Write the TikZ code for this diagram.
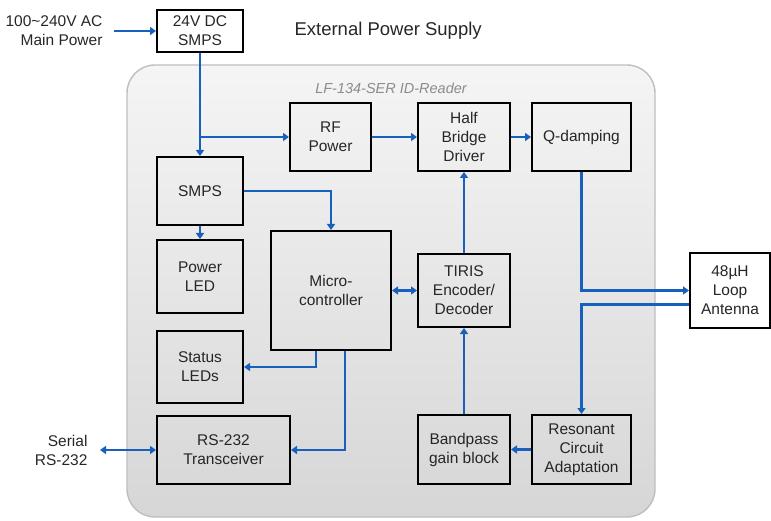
\documentclass[tikz,border=0pt]{standalone}
\usepackage{fontspec}
\setmainfont{Liberation Sans}
\usetikzlibrary{arrows.meta,calc}
\definecolor{arrblue}{RGB}{24,96,190}
\definecolor{framegray}{RGB}{190,190,190}
\tikzset{
  blk/.style={draw=black,line width=2pt,align=center,inner sep=1pt,
    font=\fontsize{15.5}{19}\selectfont,text=black!85},
  wblk/.style={blk,fill=white},
  arr/.style={draw=arrblue,line width=2.2pt,-{Triangle[length=6pt,width=8pt]}},
  darr/.style={draw=arrblue,line width=2.2pt,{Triangle[length=6pt,width=8pt]}-{Triangle[length=6pt,width=8pt]}},
  lbl/.style={align=right,font=\fontsize{15.5}{19}\selectfont,text=black!85}
}
\begin{document}
\begin{tikzpicture}[x=1pt,y=-1pt]
\useasboundingbox (0,0) rectangle (771,521);
% reader frame
\path[draw=framegray,line width=1.4pt,rounded corners=28pt,top color=black!4,bottom color=black!16]
  (127,65) rectangle (655,517);
\node[font=\fontsize{14.5}{17}\selectfont\itshape,text=black!45] (rdr) at (391,88) {LF-134-SER ID-Reader};
\node[anchor=west,font=\fontsize{18.5}{22}\selectfont,text=black!85] (ext) at (291,31) {External Power Supply};

% blocks
\node[wblk,minimum width=86pt,minimum height=42pt] (ps) at (200,31) {24V DC\\SMPS};
\node[blk,minimum width=81pt,minimum height=68pt] (rf) at (330.5,137) {RF\\Power};
\node[blk,minimum width=92pt,minimum height=68pt] (hbd) at (464,137) {Half\\Bridge\\Driver};
\node[blk,minimum width=99pt,minimum height=68pt] (qd) at (581.5,137) {Q-damping};
\node[blk,minimum width=86pt,minimum height=68pt] (smps) at (200,191) {SMPS};
\node[blk,minimum width=86pt,minimum height=73pt] (pled) at (200,276.5) {Power\\LED};
\node[blk,minimum width=120pt,minimum height=119pt] (mcu) at (331,290.5) {Micro-\\controller};
\node[blk,minimum width=86pt,minimum height=72pt] (sled) at (200,367) {Status\\LEDs};
\node[blk,minimum width=133pt,minimum height=68pt] (rs) at (223.5,450) {RS-232\\Transceiver};
\node[blk,minimum width=92pt,minimum height=73pt] (tiris) at (464,290.5) {TIRIS\\Encoder/\\Decoder};
\node[wblk,minimum width=80pt,minimum height=75pt] (ant) at (730,290.5) {48µH\\Loop\\Antenna};
\node[blk,minimum width=92pt,minimum height=69pt] (bp) at (464,449.5) {Bandpass\\gain block};
\node[blk,minimum width=99pt,minimum height=69pt] (rca) at (581.5,449.5) {Resonant\\Circuit\\Adaptation};

% external labels
\node[lbl,anchor=east] (mains) at (106,31) {100\textasciitilde 240V AC\\Main Power};
\node[lbl,anchor=east] (ser) at (91,450) {Serial\\RS-232};
\coordinate (mainsend) at (114,31);
\coordinate (serend) at (100,450);

% connectors
\draw[arr] (mainsend) -- (ps.west);
\draw[arr] (ps.south) -- (smps.north);
\draw[arr] (ps.south |- rf.west) -- (rf.west);
\draw[arr] (rf.east) -- (hbd.west);
\draw[arr] (hbd.east) -- (qd.west);
\draw[arr] (smps.east) -- (smps.east -| mcu.north) -- (mcu.north);
\draw[arr] (smps.south) -- (pled.north);
\draw[darr] (mcu.east) -- (tiris.west);
\draw[arr] (tiris.north) -- (hbd.south);
\draw[arr] ([xshift=-15pt]mcu.south) |- (sled.east);
\draw[arr] ([xshift=14pt]mcu.south) |- (rs.east);
\draw[darr] (serend) -- (rs.west);
\draw[arr] (qd.south) |- (ant.west);
\draw[arr] ([yshift=-14pt]ant.west) -| (rca.north);
\draw[arr] (rca.west) -- (bp.east);
\draw[arr] (bp.north) -- (tiris.south);
\end{tikzpicture}
\end{document}
